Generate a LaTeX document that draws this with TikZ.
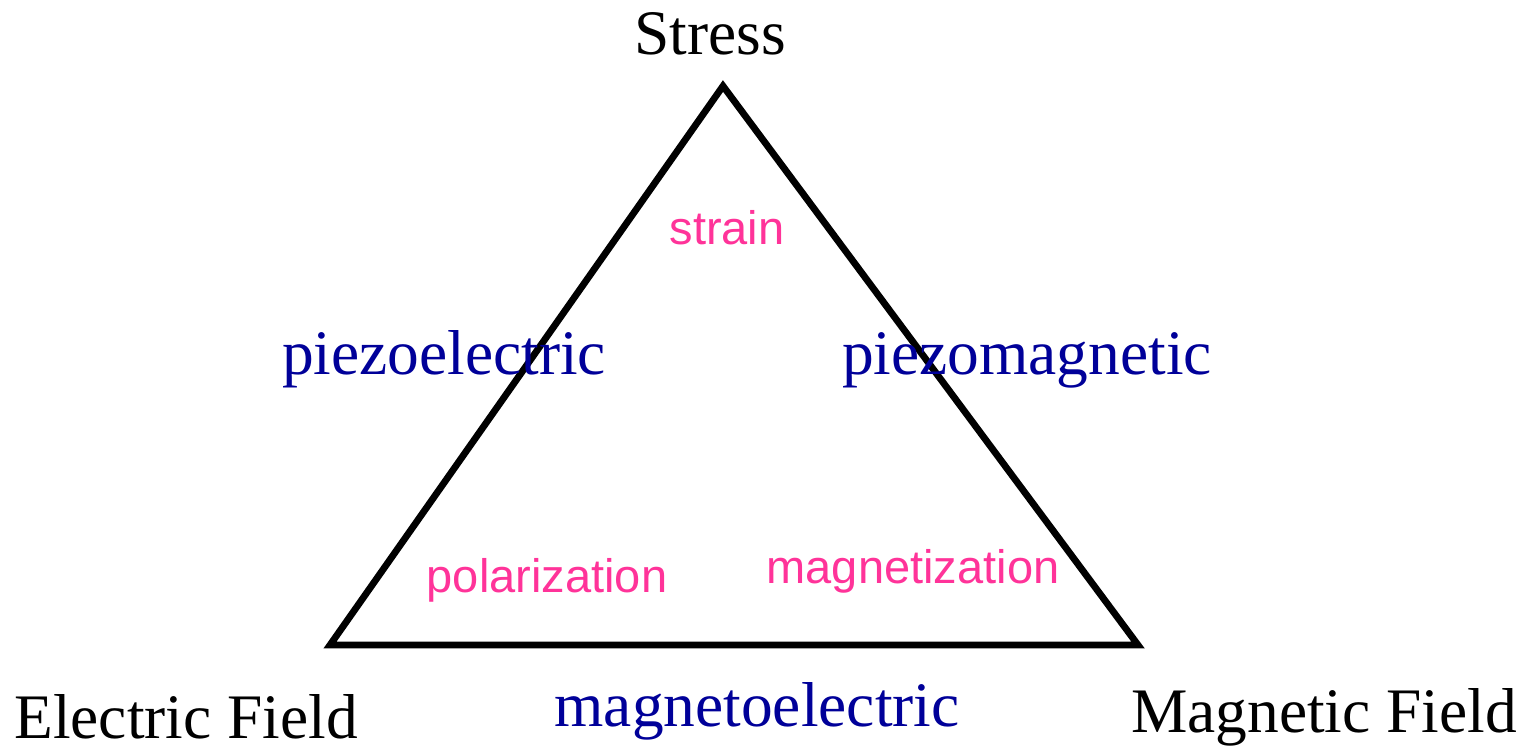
\documentclass[tikz,border=0pt]{standalone}
\usepackage{xcolor}
\usepackage{fontspec}
\setmainfont{Liberation Serif}
\setsansfont{Liberation Sans}
\usepackage{tikz}
\usetikzlibrary{positioning}

\definecolor{coupling}{HTML}{000099}
\definecolor{response}{HTML}{FF3399}

\begin{document}
\begin{tikzpicture}[
  x=0.5pt,y=-0.5pt,
  field/.style={anchor=base,inner sep=0pt,font=\fontsize{31.7}{36}\selectfont},
  effect/.style={field,text=coupling},
  resp/.style={anchor=base,inner sep=0pt,text=response,font=\sffamily\fontsize{23.5}{28}\selectfont},
  edge/.style={line width=3.4pt,line join=miter}
]
  \useasboundingbox (0,0) rectangle (1530,748);

  \coordinate (top) at (723,86);
  \coordinate (left) at (330,645);
  \coordinate (right) at (1138,645);
  \draw[edge] (top) -- (left) -- (right) -- cycle;

  \node[field] (stress) at (710,55) {Stress};
  \node[field] (efield) at (186,738) {Electric Field};
  \node[field] (mfield) at (1324,732) {Magnetic Field};

  \node[effect] (pe) at (444,375) {piezoelectric};
  \node[effect] (pm) at (1027,375) {piezomagnetic};
  \node[effect] (me) at (757,726) {magnetoelectric};

  \node[resp] (strain) at (727,245) {strain};
  \node[resp] (pol) at (547,592) {polarization};
  \node[resp] (mag) at (913,583) {magnetization};
\end{tikzpicture}
\end{document}
